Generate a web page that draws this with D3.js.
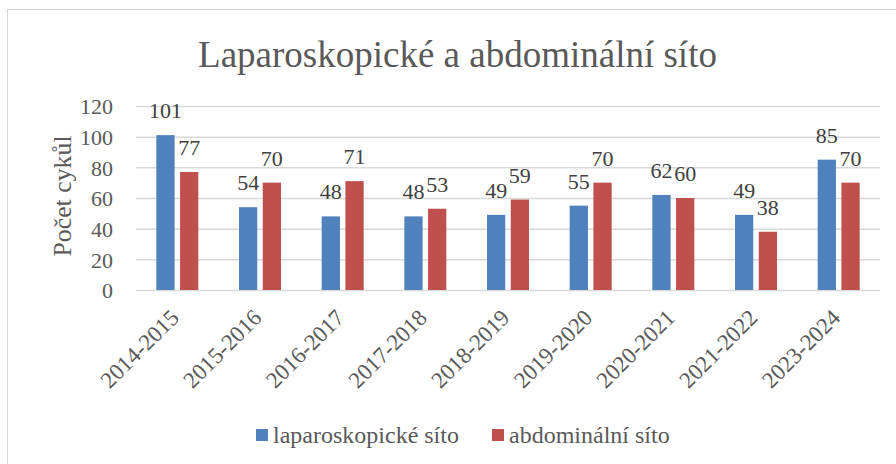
<!DOCTYPE html>
<html lang="cs">
<head>
<meta charset="UTF-8">
<title>Laparoskopické a abdominální síto</title>
<script src="https://d3js.org/d3.v7.min.js"></script>
<style>
  body { margin: 0; background: #fff; }
</style>
</head>
<body>
<div id="chart"></div>
<script>
// Data
const categories = ['2014-2015', '2015-2016', '2016-2017', '2017-2018', '2018-2019', '2019-2020', '2020-2021', '2021-2022', '2023-2024'];
const laparoskopicke = [101, 54, 48, 48, 49, 55, 62, 49, 85];
const abdominalni = [77, 70, 71, 53, 59, 70, 60, 38, 70];
const seriesNames = ['laparoskopické síto', 'abdominální síto'];
const yTicks = [0, 20, 40, 60, 80, 100, 120];

const width = 896, height = 464;
const colors = ['#4F81BD', '#C0504D'];
const font = '"Liberation Serif", serif';
const margin = { top: 106, right: 16, bottom: 174, left: 136 };

const svg = d3.select('#chart').append('svg')
    .attr('width', width)
    .attr('height', height)
    .style('font-family', font);

// Rahmen (nur links/oben sichtbar)
svg.append('rect')
    .attr('x', 7.5).attr('y', 9.5)
    .attr('width', 900).attr('height', 470)
    .attr('fill', 'none')
    .attr('stroke', '#D9D9D9');

const x = d3.scaleBand()
    .domain(categories)
    .range([margin.left, width - margin.right]);

const xInner = d3.scaleBand()
    .domain([0, 1])
    .range([x.bandwidth() / 2 - 21, x.bandwidth() / 2 + 21])
    .paddingInner(0.23);

const y = d3.scaleLinear()
    .domain([0, 120])
    .range([height - margin.bottom, margin.top]);

// Gitterlinien + Y-Ticks
svg.append('g')
    .attr('transform', `translate(${margin.left},0)`)
    .call(d3.axisLeft(y).tickValues(yTicks).tickSize(-(width - margin.left - margin.right)).tickFormat(d => d))
    .call(g => g.select('.domain').remove())
    .call(g => g.selectAll('line').attr('stroke', '#D9D9D9').attr('stroke-width', 1.5))
    .call(g => g.selectAll('text')
        .attr('x', -23)
        .attr('dy', '0.35em')
        .style('font-size', '22px')
        .style('font-family', font)
        .attr('fill', '#595959'));

// Balken
const series = [laparoskopicke, abdominalni];
series.forEach((vals, si) => {
    const g = svg.append('g');
    g.selectAll('rect')
        .data(vals)
        .join('rect')
        .attr('x', (d, i) => x(categories[i]) + xInner(si))
        .attr('y', d => y(d))
        .attr('width', xInner.bandwidth())
        .attr('height', d => y(0) - y(d))
        .attr('fill', colors[si]);
    g.selectAll('text')
        .data(vals)
        .join('text')
        .attr('x', (d, i) => x(categories[i]) + xInner(si) + xInner.bandwidth() / 2)
        .attr('y', d => y(d) - 17)
        .attr('text-anchor', 'middle')
        .style('font-size', '22px')
        .style('font-family', font)
        .attr('fill', '#404040')
        .text(d => d);
});

// X-Achse Beschriftung
svg.append('g')
    .selectAll('text')
    .data(categories)
    .join('text')
    .attr('transform', d => `translate(${x(d) + x.bandwidth() / 2 + 3},${y(0) + 29}) rotate(-45)`)
    .attr('text-anchor', 'end')
    .style('font-size', '23px')
    .style('font-family', font)
    .attr('fill', '#595959')
    .text(d => d);

// Y-Achsentitel
svg.append('text')
    .attr('transform', `translate(71,196) rotate(-90)`)
    .attr('text-anchor', 'middle')
    .style('font-size', '25.8px')
    .style('font-family', font)
    .attr('fill', '#595959')
    .text('Počet cykůl');

// Titel
svg.append('text')
    .attr('x', 457.5)
    .attr('y', 67)
    .attr('text-anchor', 'middle')
    .style('font-size', '37px')
    .style('font-family', font)
    .attr('fill', '#595959')
    .text('Laparoskopické a abdominální síto');

// Legende
const legendX = [256, 492];
seriesNames.forEach((name, i) => {
    svg.append('rect')
        .attr('x', legendX[i]).attr('y', 429)
        .attr('width', 12).attr('height', 12)
        .attr('fill', colors[i]);
    svg.append('text')
        .attr('x', legendX[i] + 17)
        .attr('y', 443)
        .style('font-size', '24px')
        .style('font-family', font)
        .attr('fill', '#595959')
        .text(name);
});
</script>
</body>
</html>
